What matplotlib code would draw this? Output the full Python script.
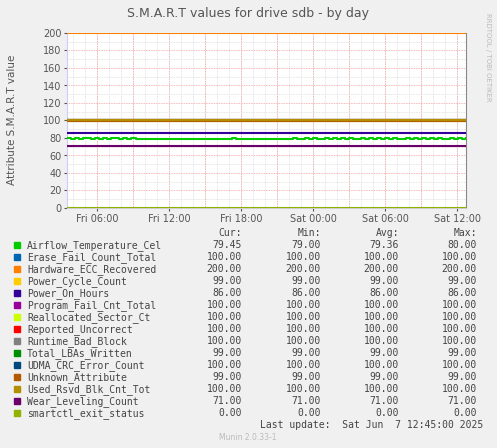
import matplotlib
matplotlib.use("Agg")
import matplotlib.pyplot as plt
import numpy as np

names = ["Airflow_Temperature_Cel","Erase_Fail_Count_Total","Hardware_ECC_Recovered",
         "Power_Cycle_Count","Power_On_Hours","Program_Fail_Cnt_Total","Reallocated_Sector_Ct",
         "Reported_Uncorrect","Runtime_Bad_Block","Total_LBAs_Written","UDMA_CRC_Error_Count",
         "Unknown_Attribute","Used_Rsvd_Blk_Cnt_Tot","Wear_Leveling_Count","smartctl_exit_status"]
colors = ["#00CC00","#0066B3","#FF8000","#FFCC00","#330099","#990099","#CCFF00","#FF0000",
          "#808080","#008F00","#00487D","#B35A00","#B38F00","#6B006B","#8FB300"]
cur = ["79.45","100.00","200.00","99.00","86.00","100.00","100.00","100.00","100.00","99.00","100.00","99.00","100.00","71.00","0.00"]
mn  = ["79.00","100.00","200.00","99.00","86.00","100.00","100.00","100.00","100.00","99.00","100.00","99.00","100.00","71.00","0.00"]
avg = ["79.36","100.00","200.00","99.00","86.00","100.00","100.00","100.00","100.00","99.00","100.00","99.00","100.00","71.00","0.00"]
mx  = ["80.00","100.00","200.00","99.00","86.00","100.00","100.00","100.00","100.00","99.00","100.00","99.00","100.00","71.00","0.00"]
const_values = [None,100,200,99,86,100,100,100,100,99,100,99,100,71,0]

# hours since Fri 00:00, 20-minute samples from 03:30 to 12:45 Sat
airflow = [80,79,80,79,80,80,79,80,79,80,79,80,80,79,80,79,80,79,79,79,79,79,79,79,79,79,79,79,79,79,
           79,79,79,79,79,79,79,79,79,79,79,80,79,79,79,79,79,79,79,79,79,79,79,79,79,79,80,79,79,80,
           79,80,79,79,80,79,80,79,80,79,80,79,79,80,79,80,79,80,79,80,79,80,79,79,80,79,80,79,80,79,
           80,79,80,79,79,80,79,80,79,80]
t0, t1 = 3.5, 36.75
tt = np.linspace(t0, t1, len(airflow))

W, H = 497, 448
fig = plt.figure(figsize=(W/100, H/100), dpi=100, facecolor="#F0F0F0")
ax = fig.add_axes([67/W, 1-208/H, (466-67)/W, (208-33)/H], facecolor="white")
ax.set_xlim(t0, t1)
ax.set_ylim(0, 200)

for h in np.arange(4, 37, 1):
    ax.axvline(h, color="#dddddd", lw=0.6, ls=(0,(1,1)), zorder=0)
for h in np.arange(6, 37, 3):
    ax.axvline(h, color="#f4a0a0", lw=0.6, ls=(0,(1,1)), zorder=0)
for y in range(10, 200, 20):
    ax.axhline(y, color="#dddddd", lw=0.6, ls=(0,(1,1)), zorder=0)
for y in range(20, 201, 20):
    ax.axhline(y, color="#f4a0a0", lw=0.6, ls=(0,(1,1)), zorder=0)

for i, c in enumerate(colors):
    if i == 0:
        ax.step(tt, airflow, where="post", color=c, lw=1.5, zorder=3)
    else:
        ax.plot([t0, t1], [const_values[i]]*2, color=c, lw=1.5, zorder=3)

ax.set_yticks(range(0, 201, 20))
xt = [6, 12, 18, 24, 30, 36]
ax.set_xticks(xt)
ax.set_xticklabels(["Fri 06:00","Fri 12:00","Fri 18:00","Sat 00:00","Sat 06:00","Sat 12:00"])
ax.tick_params(colors="#555555", labelsize=7, length=2, pad=2)
for s in ["top", "left"]:
    ax.spines[s].set_visible(False)
ax.spines["right"].set_color("#888888")
ax.spines["bottom"].set_color("#cccccc")
ax.spines["left"].set_visible(True)
ax.spines["left"].set_color("#ccccff")

fig.text(248/W, 1-14/H, "S.M.A.R.T values for drive sdb - by day", ha="center", va="center", fontsize=9, color="#555555")
fig.text(12/W, 1-120/H, "Attribute S.M.A.R.T value", rotation=90, ha="center", va="center", fontsize=7.5, color="#555555")
fig.text(488/W, 1-57/H, "RRDTOOL / TOBI OETIKER", rotation=270, ha="center", va="center", fontsize=5, color="#bbbbbb")

mono = dict(family="DejaVu Sans Mono", fontsize=7, color="#444444", va="center")
hy = 233
for xr, lab in [(242, "Cur:"), (321, "Min:"), (399, "Avg:"), (477, "Max:")]:
    fig.text(xr/W, 1-hy/H, lab, ha="right", **mono)
for i, nm in enumerate(names):
    y = 245.3 + 12*i
    fig.patches.append(plt.Rectangle((14/W, 1-(y+3)/H), 6/W, 6/H, transform=fig.transFigure, color=colors[i]))
    fig.text(27/W, 1-y/H, nm, ha="left", **mono)
    for xr, v in [(242, cur[i]), (321, mn[i]), (399, avg[i]), (477, mx[i])]:
        fig.text(xr/W, 1-y/H, v, ha="right", **mono)
fig.text(483/W, 1-425/H, "Last update:  Sat Jun  7 12:45:00 2025", ha="right", **mono)
fig.text(248/W, 1-437/H, "Munin 2.0.33-1", ha="center", va="center", fontsize=5.5, color="#bbbbbb")

fig.savefig("out.png", dpi=100, facecolor=fig.get_facecolor())
